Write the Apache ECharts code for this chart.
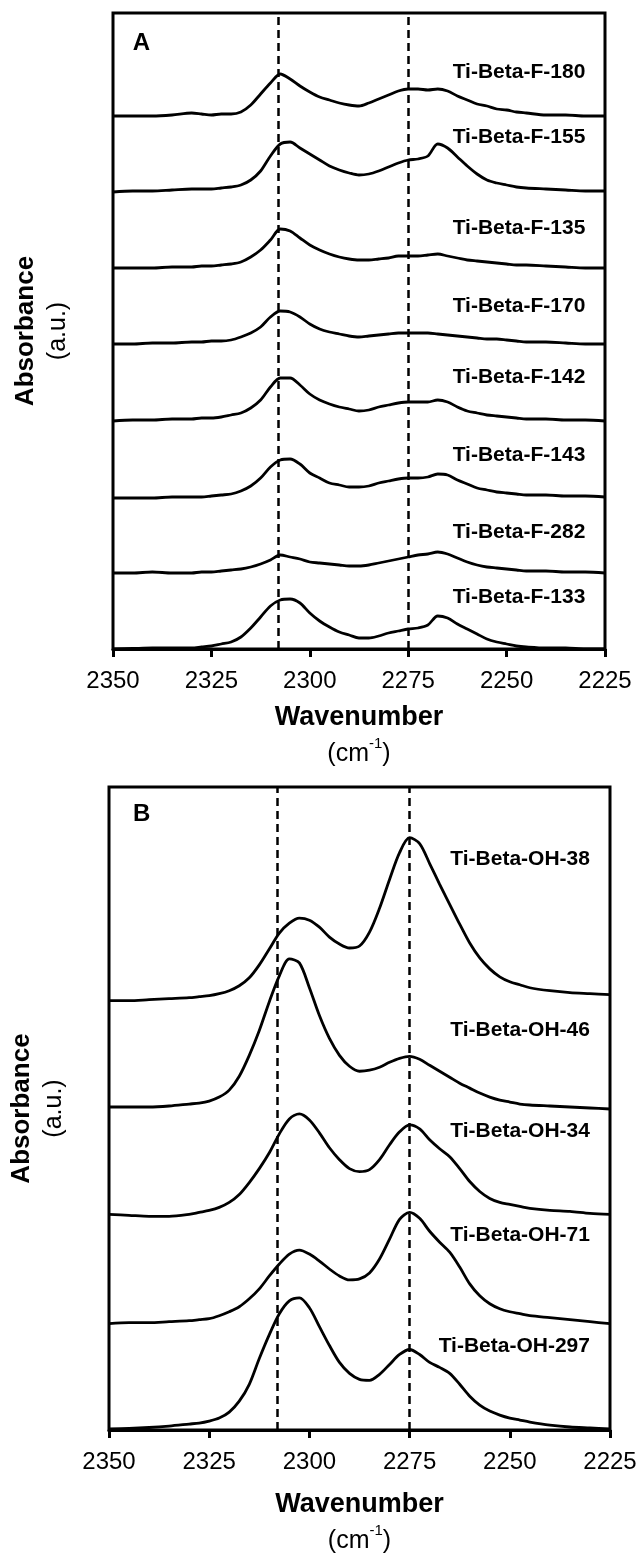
<!DOCTYPE html>
<html>
<head>
<meta charset="utf-8">
<script src="https://cdn.jsdelivr.net/npm/echarts@6/dist/echarts.min.js"></script>
<style>
  html, body { margin: 0; padding: 0; background: #fff; }
  #chart { width: 643px; height: 1555px; }
</style>
</head>
<body>
<div id="chart"></div>
<script>
"use strict";

const FONT = "Liberation Sans";

// wavenumber grid (cm-1), shared by both panels
const wn = [2350, 2345, 2340, 2335, 2330, 2327.5, 2325, 2322.5, 2320, 2317.5, 2315, 2312.5, 2310, 2307.5,
  2305, 2302.5, 2300, 2297.5, 2295, 2292.5, 2290, 2287.5, 2285, 2282.5, 2280, 2277.5, 2275, 2272.5,
  2270, 2267.5, 2265, 2262.5, 2260, 2257.5, 2255, 2252.5, 2250, 2247.5, 2245, 2240, 2235, 2230, 2225];

// panel A: F-series (stacked, a.u.)
const f180 = [533, 533, 533, 534, 536, 535, 534, 535, 535, 537, 544, 555, 566, 575,
  570, 563, 557, 552, 549, 546, 544, 543, 546, 550, 554, 558, 560, 560,
  559, 560, 558, 553, 549, 545, 543, 540, 539, 537, 536, 534, 534, 533, 533];
const f155 = [457, 458, 458, 459, 460, 460, 460, 461, 462, 464, 469, 478, 493, 505,
  507, 501, 495, 489, 483, 479, 476, 474, 475, 478, 482, 486, 489, 490,
  493, 505, 501, 492, 483, 475, 469, 466, 464, 462, 461, 460, 459, 458, 458];
const f135 = [381, 381, 381, 382, 382, 383, 383, 384, 385, 387, 392, 399, 409, 420,
  418, 411, 404, 399, 395, 392, 390, 389, 389, 390, 391, 393, 393, 393,
  394, 395, 393, 391, 389, 388, 387, 386, 385, 384, 384, 383, 382, 381, 381];
const f170 = [305, 305, 306, 306, 307, 307, 308, 308, 309, 312, 316, 322, 332, 338,
  337, 332, 325, 320, 317, 315, 313, 312, 313, 314, 315, 316, 316, 316,
  316, 315, 314, 313, 312, 311, 310, 310, 309, 308, 307, 307, 306, 305, 305];
const f142 = [228, 229, 229, 230, 230, 231, 231, 232, 234, 236, 241, 249, 262, 271,
  271, 264, 255, 249, 245, 242, 240, 238, 239, 242, 244, 246, 247, 247,
  247, 249, 247, 242, 238, 236, 234, 233, 232, 231, 230, 230, 229, 229, 228];
const f143 = [151, 151, 151, 152, 152, 152, 153, 154, 155, 158, 163, 171, 182, 189,
  190, 185, 176, 171, 166, 164, 162, 162, 163, 166, 168, 170, 171, 171,
  172, 175, 174, 169, 165, 161, 159, 157, 156, 155, 154, 154, 153, 153, 152];
const f282 = [76, 76, 77, 76, 76, 77, 77, 78, 79, 80, 82, 85, 89, 94,
  92, 90, 87, 86, 85, 84, 83, 83, 84, 86, 88, 90, 92, 94,
  95, 97, 95, 91, 87, 84, 82, 81, 80, 79, 78, 78, 77, 77, 76];
const f133 = [0, 0.5, 1, 1, 1, 2, 3, 5, 7, 12, 21, 32, 43, 49,
  50, 46, 36, 28, 22, 17, 14, 11, 11, 13, 16, 18, 20, 21,
  24, 33, 31, 25, 20, 15, 10, 7, 5, 3, 2, 1, 1, 0, 0];

const seriesA = [f180, f155, f135, f170, f142, f143, f282, f133];
const namesA = ["Ti-Beta-F-180", "Ti-Beta-F-155", "Ti-Beta-F-135", "Ti-Beta-F-170",
  "Ti-Beta-F-142", "Ti-Beta-F-143", "Ti-Beta-F-282", "Ti-Beta-F-133"];
const labelYA = [577, 512, 421, 343, 272, 194, 117, 52];

// panel B: OH-series
const oh38 = [432, 432, 433, 434, 435, 436, 437, 439, 442, 447, 455, 468, 484, 500,
  510, 515, 513, 506, 496, 489, 485, 487, 501, 525, 554, 581, 596, 590,
  570, 549, 529, 509, 490, 475, 464, 456, 451, 448, 445, 442, 440, 439, 438];
const oh46 = [325, 325, 325, 326, 328, 329, 331, 335, 342, 356, 377, 402, 431, 457,
  474, 470, 445, 417, 394, 377, 366, 361, 362, 365, 370, 374, 376, 373,
  367, 361, 355, 349, 344, 339, 335, 332, 330, 328, 327, 326, 325, 324, 323];
const oh34 = [217, 216, 215, 215, 217, 219, 221, 224, 229, 237, 249, 263, 279, 298,
  313, 318, 312, 299, 284, 272, 263, 260, 262, 272, 287, 300, 307, 303,
  292, 283, 275, 263, 250, 240, 233, 229, 227, 225, 223, 221, 220, 218, 217];
const oh71 = [107, 108, 108, 109, 110, 111, 112, 115, 119, 124, 132, 142, 155, 167,
  177, 181, 177, 170, 162, 155, 151, 152, 158, 172, 192, 212, 219, 213,
  200, 189, 179, 164, 147, 135, 127, 122, 119, 117, 115, 113, 111, 109, 107];
const oh297 = [1, 1.5, 2.5, 4, 6, 7, 9, 12, 18, 29, 46, 72, 96, 117,
  130, 133, 123, 104, 85, 68, 57, 51, 50, 56, 66, 76, 81, 76,
  68, 63, 57, 46, 34, 25, 19, 15, 12, 10, 8, 5, 3, 2, 1];

const seriesB = [oh38, oh46, oh34, oh71, oh297];
const namesB = ["Ti-Beta-OH-38", "Ti-Beta-OH-46", "Ti-Beta-OH-34", "Ti-Beta-OH-71", "Ti-Beta-OH-297"];
const labelYB = [574, 402, 301, 196, 84];

const dashedAt = [2308, 2275];
const labelX = 2230;
const letterPos = [[2345, 606], [2344, 619]];

const chart = echarts.init(document.getElementById("chart"), null, { renderer: "canvas" });

const xAxisFor = (gridIndex, gap) => ({
  type: "value",
  gridIndex,
  min: 2225,
  max: 2350,
  interval: 25,
  inverse: true,
  axisLine: { show: true, lineStyle: { color: "#000", width: 3 } },
  axisTick: { show: true, length: 8, lineStyle: { color: "#000", width: 3 } },
  axisLabel: { color: "#000", fontSize: 24, fontFamily: FONT, margin: 20, formatter: (v) => String(v) },
  splitLine: { show: false },
  name: "{b|Wavenumber}\n{n|(cm}{s|-1}{n|)}",
  nameLocation: "middle",
  nameGap: gap,
  nameTextStyle: {
    color: "#000",
    fontFamily: FONT,
    rich: {
      b: { fontSize: 27, fontWeight: "bold", fontFamily: FONT, color: "#000", lineHeight: 37 },
      n: { fontSize: 25, fontFamily: FONT, color: "#000", lineHeight: 37 },
      s: { fontSize: 15, fontFamily: FONT, color: "#000", lineHeight: 24, verticalAlign: "top" },
    },
  },
});

const yAxisFor = (gridIndex, max) => ({
  type: "value",
  gridIndex,
  min: 0,
  max,
  axisLine: { show: false },
  axisTick: { show: false },
  axisLabel: { show: false },
  splitLine: { show: false },
  name: "{b|Absorbance}\n{n|(a.u.)}",
  nameLocation: "middle",
  nameRotate: 90,
  nameGap: 38,
  nameTextStyle: {
    color: "#000",
    rich: {
      b: { fontSize: 26, fontWeight: "bold", fontFamily: FONT, color: "#000", lineHeight: 33 },
      n: { fontSize: 25, fontFamily: FONT, color: "#000", lineHeight: 33 },
    },
  },
});

const lineSeries = (vals, idx, withDash) => {
  const s = {
    type: "line",
    xAxisIndex: idx,
    yAxisIndex: idx,
    data: wn.map((w, i) => [w, vals[i]]),
    showSymbol: false,
    smooth: 0.3,
    lineStyle: { color: "#000", width: 2.8 },
    silent: true,
    z: 3,
  };
  if (withDash) {
    s.markLine = {
      silent: true,
      symbol: ["none", "none"],
      label: { show: false },
      lineStyle: { color: "#000", width: 2.5, type: [8, 5] },
      data: dashedAt.map((x) => ({ xAxis: x })),
    };
  }
  return s;
};

const textLabel = (size, pos) => ({
  show: true,
  formatter: "{b}",
  position: pos,
  distance: 0,
  color: "#000",
  opacity: 1,
  fontSize: size,
  fontWeight: "bold",
  fontFamily: FONT,
});

const labelSeries = (names, ys, idx) => ({
  type: "scatter",
  xAxisIndex: idx,
  yAxisIndex: idx,
  symbolSize: 0,
  silent: true,
  itemStyle: { opacity: 1 },
  data: ys.map((y, i) => ({ value: [labelX, y], name: names[i] })),
  label: textLabel(21, "left"),
  z: 5,
});

const letterSeries = (letter, idx) => ({
  type: "scatter",
  xAxisIndex: idx,
  yAxisIndex: idx,
  symbolSize: 0,
  silent: true,
  itemStyle: { opacity: 1 },
  data: [{ value: letterPos[idx], name: letter }],
  label: textLabel(24, "right"),
});

const series = [];
seriesA.forEach((vals, i) => series.push(lineSeries(vals, 0, i === 0)));
seriesB.forEach((vals, i) => series.push(lineSeries(vals, 1, i === 0)));
series.push(labelSeries(namesA, labelYA, 0));
series.push(labelSeries(namesB, labelYB, 1));
series.push(letterSeries("A", 0));
series.push(letterSeries("B", 1));

chart.setOption({
  animation: false,
  backgroundColor: "#fff",
  textStyle: { fontFamily: FONT },
  grid: [
    { left: 113, top: 13, width: 492, height: 636, show: true, borderColor: "#000", borderWidth: 3, backgroundColor: "transparent" },
    { left: 109, top: 787, width: 501, height: 647, show: true, borderColor: "#000", borderWidth: 3, backgroundColor: "transparent" },
  ],
  xAxis: [xAxisFor(0, 50), xAxisFor(1, 56)],
  yAxis: [yAxisFor(0, 636), yAxisFor(1, 647)],
  series,
});
</script>
</body>
</html>
